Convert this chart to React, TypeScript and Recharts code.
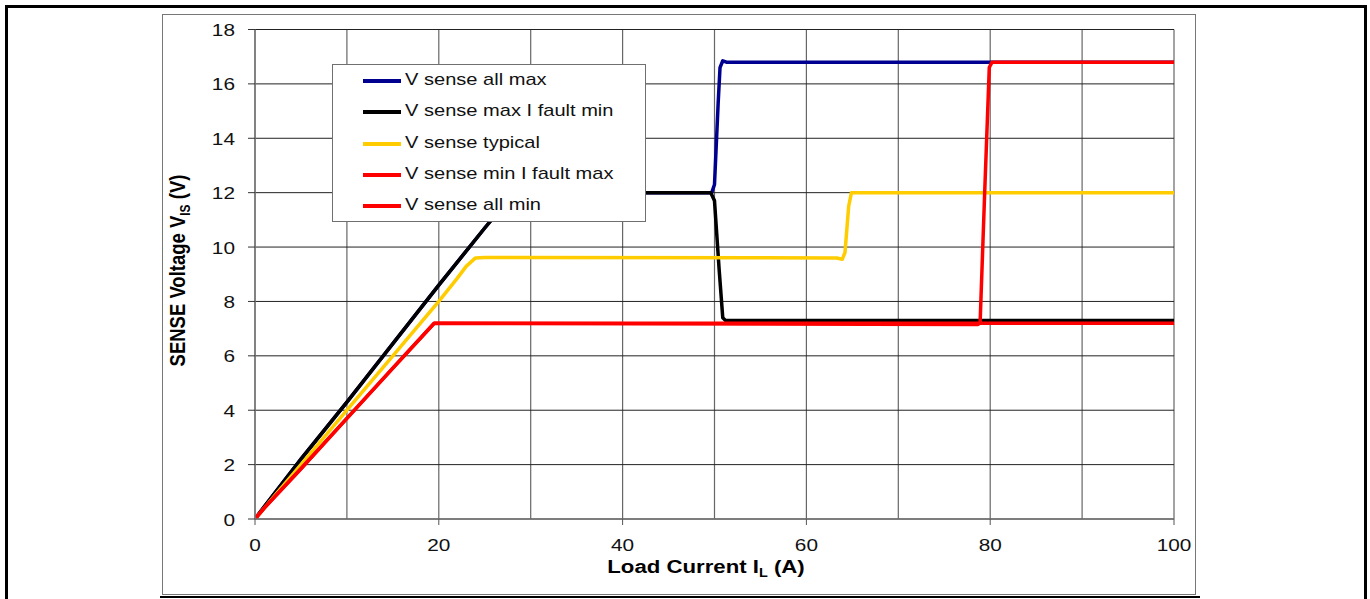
import { CartesianGrid, Legend, Line, LineChart, XAxis, YAxis } from 'recharts'

const FONT = '"Liberation Sans", Arial, sans-serif'

const xTicks = [0, 20, 40, 60, 80, 100]
const yTicks = [0, 2, 4, 6, 8, 10, 12, 14, 16, 18]
const xGrid = [0, 10, 20, 30, 40, 50, 60, 70, 80, 90, 100]

const seriesNames = [
    'V sense all max',
    'V sense max I fault min',
    'V sense typical',
    'V sense min I fault max',
    'V sense all min',
]
const seriesColors = ['#000090', '#000000', '#ffcc00', '#ff0000', '#ff0000']

// [load current A, sense voltage V]
const allMax: [number, number][] = [
    [0, 0], [1, 0.45], [5, 2.2], [10, 4.3], [15, 6.45], [20, 8.6], [25, 10.7], [28.2, 12],
    [49.7, 12], [50.0, 12.3], [50.4, 15.3], [50.6, 16.6], [50.9, 16.85], [51.3, 16.8], [100, 16.8],
]
const maxFaultMin: [number, number][] = [
    [0, 0], [1, 0.45], [5, 2.2], [10, 4.3], [15, 6.45], [20, 8.6], [25, 10.7], [28.2, 12],
    [49.6, 12], [50.0, 11.7], [50.5, 9.2], [50.9, 7.4], [51.2, 7.3], [100, 7.3],
]
const typical: [number, number][] = [
    [0, 0], [1, 0.4], [5, 2.0], [10, 4.0], [15, 6.0], [20, 8.0], [22, 8.85], [23, 9.3], [24, 9.6],
    [25, 9.62], [63.3, 9.6], [63.9, 9.55], [64.2, 9.8], [64.6, 11.5], [64.9, 12], [65.5, 12], [100, 12],
]
const minFaultMax: [number, number][] = [
    [0, 0], [1, 0.4], [5, 1.85], [10, 3.7], [15, 5.55], [19.5, 7.2], [78.6, 7.15], [78.9, 7.2],
    [79.4, 12], [79.9, 16.6], [80.2, 16.8], [100, 16.8],
]
const allMin: [number, number][] = [
    [0, 0], [1, 0.4], [5, 1.85], [10, 3.7], [15, 5.55], [19.5, 7.2], [100, 7.2],
]

const seriesData = [allMax, maxFaultMin, typical, minFaultMax, allMin]

const toRows = (pts: [number, number][]) => pts.map(([x, v]) => ({ x, v }))

function YTick({ x, y, payload }: any) {
    return (
        <text transform={`translate(${x},${y}) scale(1.3,1)`} textAnchor="end" dy={6.5}
            fontSize={16} fontFamily={FONT} fill="#111">
            {payload.value}
        </text>
    )
}

function XTick({ x, y, payload }: any) {
    return (
        <text transform={`translate(${x},${y}) scale(1.3,1)`} textAnchor="middle" dy={18.5}
            fontSize={16} fontFamily={FONT} fill="#111">
            {payload.value}
        </text>
    )
}

function XTitle() {
    return (
        <text transform="translate(543,557.7) scale(1.2,1)" textAnchor="middle"
            fontSize={18.5} fontWeight="bold" fontFamily={FONT} fill="#000">
            Load Current I<tspan fontSize={12} dy={4}>L</tspan><tspan dy={-4}> (A)</tspan>
        </text>
    )
}

function YTitle() {
    return (
        <text transform="translate(22,255.5) scale(1.2,1) rotate(-90)" textAnchor="middle"
            fontSize={18.5} fontWeight="bold" fontFamily={FONT} fill="#000">
            SENSE Voltage V<tspan fontSize={12} dy={4}>IS</tspan><tspan dy={-4}> (V)</tspan>
        </text>
    )
}

function LegendBox() {
    return (
        <div style={{
            position: 'relative', boxSizing: 'border-box', width: 314, height: 158, background: '#fff',
            border: '1.5px solid #707070', fontFamily: FONT,
        }}>
            {seriesNames.map((name, i) => {
                const top = Math.round(i * 31.3)
                return (
                    <div key={name}>
                        <div style={{
                            position: 'absolute', left: 30, top: top + 14, width: 38, height: 4,
                            background: seriesColors[i],
                        }} />
                        <span style={{
                            position: 'absolute', left: 72, top: top + 4, fontSize: 17, lineHeight: '22px',
                            whiteSpace: 'nowrap', color: '#111', transform: 'scaleX(1.18)',
                            transformOrigin: 'left center',
                        }}>{name}</span>
                    </div>
                )
            })}
        </div>
    )
}

export default function App() {
    return (
        <div style={{
            position: 'fixed', left: 0, top: 0, width: 1370, height: 599,
            overflow: 'hidden', background: '#fff',
        }}>
            <div style={{
                position: 'absolute', left: 5, top: 5, width: 1362, height: 600, boxSizing: 'border-box',
                border: '3px solid #000', borderBottom: 'none',
            }} />
            <div style={{
                position: 'absolute', left: 162, top: 14, width: 1034, height: 581, boxSizing: 'border-box',
                border: '1.5px solid #777',
            }} />
            <div style={{ position: 'absolute', left: 160, top: 596, width: 1040, height: 2, background: '#000' }} />
            <div style={{ position: 'absolute', left: 163, top: 15 }}>
                <LineChart width={1032} height={580} margin={{ top: 14.5, right: 21, left: 32, bottom: 36 }}>
                    <CartesianGrid horizontal={false} verticalValues={xGrid} stroke="#666" strokeWidth={1.2} />
                    <CartesianGrid vertical={false} stroke="#222" strokeWidth={1} />
                    <XAxis dataKey="x" type="number" domain={[0, 100]} ticks={xTicks} height={40}
                        tickSize={6} tickMargin={8} tick={<XTick />} interval={0}
                        axisLine={{ stroke: '#777', strokeWidth: 1.5 }} tickLine={{ stroke: '#555' }}
                        label={<XTitle />} allowDataOverflow />
                    <YAxis type="number" domain={[0, 18]} ticks={yTicks} width={60} interval={0}
                        tickSize={7} tickMargin={13} tick={<YTick />}
                        axisLine={{ stroke: '#777', strokeWidth: 1.5 }} tickLine={{ stroke: '#333' }}
                        label={<YTitle />} allowDataOverflow />
                    {seriesData.map((pts, i) => (
                        <Line key={seriesNames[i]} data={toRows(pts)} dataKey="v" name={seriesNames[i]}
                            type="linear" stroke={seriesColors[i]} strokeWidth={3.5} dot={false} activeDot={false}
                            strokeLinejoin="round" isAnimationActive={false} />
                    ))}
                    <Legend layout="vertical" align="center" verticalAlign="middle" content={<LegendBox />}
                        wrapperStyle={{ position: 'absolute', left: 169, top: 49, width: 314, height: 158 }} />
                </LineChart>
            </div>
        </div>
    )
}
